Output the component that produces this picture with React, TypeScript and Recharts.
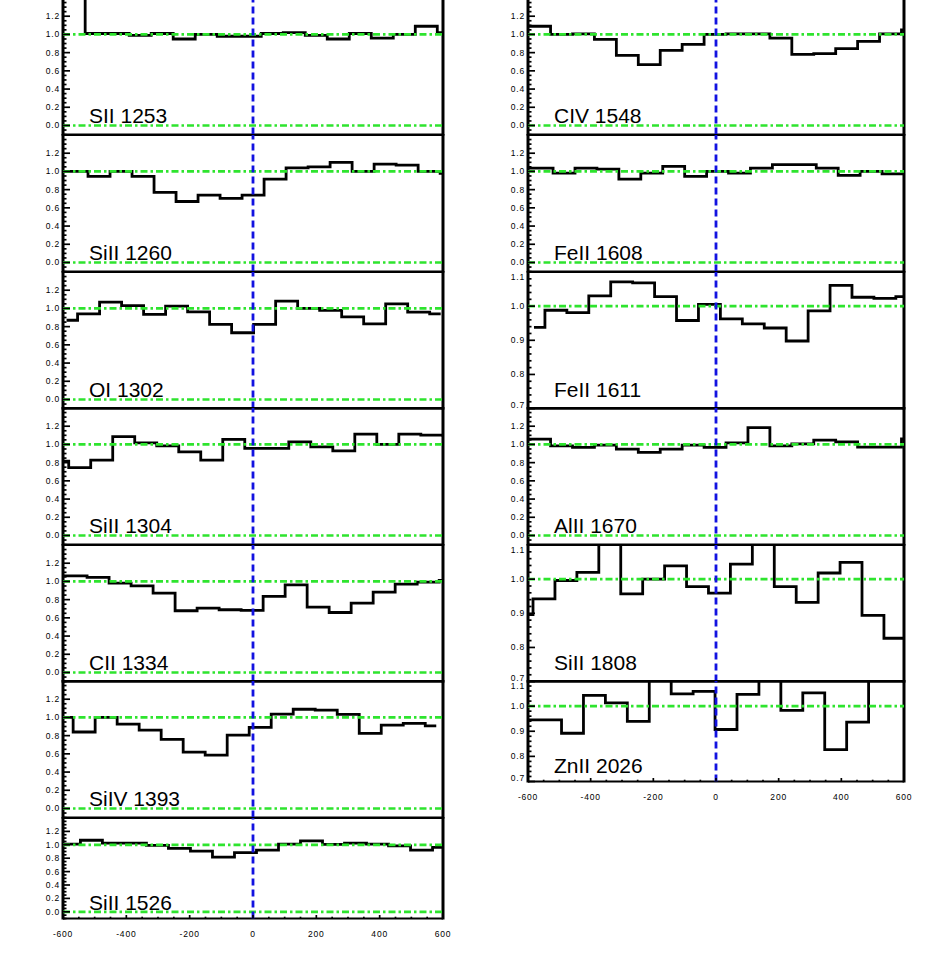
import React from 'react';
import { LineChart, Line, XAxis, YAxis, ReferenceLine } from 'recharts';

// velocity axis (km/s)
const velTicks = [-600, -400, -200, 0, 200, 400, 600];
const velMinorStep = 50;

// normalised flux axes
const fluxTicksWide = [0.0, 0.2, 0.4, 0.6, 0.8, 1.0, 1.2];
const fluxTicksNarrow = [0.7, 0.8, 0.9, 1.0, 1.1];
const domainWide: [number, number] = [-0.1, 1.4];
const domainNarrow: [number, number] = [0.7, 1.1];

// pixel width in velocity for each column (km/s)
const binLeft = 69.5;
const binRight = 70;

// normalised flux per velocity bin
const sII1253 = [1.8, 1.01, 1.01, 0.99, 1.01, 0.95, 1.0, 0.98, 0.98, 1.01, 1.02, 0.99, 0.95, 1.01, 0.96, 1.0, 1.09, 1.02];
const siII1260 = [1.0, 1.0, 0.945, 1.0, 0.945, 0.77, 0.67, 0.74, 0.705, 0.74, 0.915, 1.04, 1.05, 1.1, 1.0, 1.08, 1.07, 1.0, 0.98];
const oI1302 = [0.87, 0.94, 1.07, 1.03, 0.935, 1.025, 0.963, 0.824, 0.733, 0.824, 1.08, 1.0, 0.978, 0.908, 0.83, 1.05, 0.96, 0.94];
const siII1304 = [0.816, 0.746, 0.827, 1.085, 1.018, 0.985, 0.919, 0.827, 1.055, 0.956, 0.956, 1.029, 0.974, 0.93, 1.114, 1.0, 1.114, 1.103, 1.1];
const cII1334 = [1.062, 1.062, 1.044, 0.982, 0.952, 0.872, 0.678, 0.707, 0.689, 0.681, 0.835, 0.963, 0.718, 0.659, 0.762, 0.883, 0.971, 0.993, 1.011];
const siIV1393 = [1.0, 0.84, 1.0, 0.927, 0.86, 0.76, 0.62, 0.586, 0.806, 0.89, 1.037, 1.09, 1.08, 1.033, 0.824, 0.916, 0.934, 0.908];
const siII1526 = [1.01, 1.01, 1.068, 1.024, 1.024, 0.99, 0.946, 0.907, 0.815, 0.883, 0.922, 1.01, 1.059, 1.005, 1.024, 1.01, 0.985, 0.922, 0.961];

const cIV1548 = [1.09, 1.09, 1.0, 1.007, 0.945, 0.771, 0.669, 0.825, 0.891, 1.0, 1.007, 1.007, 0.96, 0.782, 0.789, 0.844, 0.924, 1.007, 1.05];
const feII1608 = [1.037, 1.037, 0.982, 1.037, 1.026, 0.915, 0.982, 1.055, 0.945, 1.0, 0.982, 1.037, 1.074, 1.074, 1.037, 0.956, 1.0, 0.974, 0.974];
const feII1611 = [0.938, 0.988, 0.981, 1.03, 1.071, 1.068, 1.028, 0.958, 1.005, 0.963, 0.948, 0.936, 0.898, 0.986, 1.061, 1.026, 1.023, 1.028];
const alII1670 = [1.059, 1.059, 0.985, 0.967, 0.993, 0.949, 0.912, 0.949, 0.993, 0.967, 1.018, 1.184, 0.985, 1.007, 1.048, 1.029, 0.971, 0.971, 1.06];
const siII1808 = [0.896, 0.942, 0.996, 1.02, 1.15, 0.957, 1.0, 1.039, 0.978, 0.959, 1.044, 1.15, 0.978, 0.932, 1.018, 1.049, 0.894, 0.827, 0.827];
const znII2026 = [0.945, 0.945, 0.892, 1.043, 1.013, 0.939, 1.15, 1.049, 1.059, 0.907, 1.047, 1.15, 0.983, 1.053, 0.827, 0.936, 1.15, 1.15, 1.15];

// first = velocity of the first bin centre
const leftColumn = [
  { label: 'SII 1253', first: -564.75, flux: sII1253, narrow: false },
  { label: 'SiII 1260', first: -625.25, flux: siII1260, narrow: false },
  { label: 'OI 1302', first: -588.75, flux: oI1302, narrow: false },
  { label: 'SiII 1304', first: -616.75, flux: siII1304, narrow: false },
  { label: 'CII 1334', first: -628.25, flux: cII1334, narrow: false },
  { label: 'SiIV 1393', first: -602.75, flux: siIV1393, narrow: false },
  { label: 'SiII 1526', first: -649.25, flux: siII1526, narrow: false },
];

const rightColumn = [
  { label: 'CIV 1548', first: -633, flux: cIV1548, narrow: false },
  { label: 'FeII 1608', first: -625, flux: feII1608, narrow: false },
  { label: 'FeII 1611', first: -581, flux: feII1611, narrow: true },
  { label: 'AlII 1670', first: -633, flux: alII1670, narrow: false },
  { label: 'SiII 1808', first: -619, flux: siII1808, narrow: true },
  { label: 'ZnII 2026', first: -598, flux: znII2026, narrow: true },
];

const PANEL_H = 136.6;
const LAST_H = 100.5;
const TOP0 = -1.6;
const AXL = 60;
const PAD = 4;
const RPAD = 18;
const XLAB = 20;

const GREEN = '#2ee42e';
const BLUE = '#1212e0';
const FONT = '"Liberation Sans", Arial, Helvetica, sans-serif';
const DASHDOT = '7 3 2.5 3';

const steps = (a: number, b: number, s: number) => {
  const out: number[] = [];
  for (let k = Math.ceil(a / s - 1e-9); k <= Math.floor(b / s + 1e-9); k++) out.push(Math.round(k * s * 1e6) / 1e6);
  return out;
};
const isIn = (v: number, list: number[]) => list.some((m) => Math.abs(m - v) < 1e-6);

interface PanelProps {
  x: number;
  y: number;
  w: number;
  h: number;
  bin: number;
  first: number;
  flux: number[];
  label: string;
  narrow: boolean;
  showX: boolean;
}

const Panel = ({ x, y, w, h, bin, first, flux, label, narrow, showX }: PanelProps) => {
  const data = flux.map((f, i) => ({ v: first + i * bin, f }));
  const domain = narrow ? domainNarrow : domainWide;
  const majors = narrow ? fluxTicksNarrow : fluxTicksWide;
  const yTicks = steps(domain[0], domain[1], narrow ? 0.02 : 0.05);
  const xTicks = steps(-600, 600, velMinorStep);
  const chartW = AXL + w + RPAD;
  const chartH = PAD + h + (showX ? XLAB : 0) + PAD;
  const L = AXL;
  const R = AXL + w;
  const T = PAD;
  const B = PAD + h;

  const leftTick = (p: any) => {
    const val = p.payload.value;
    const major = isIn(val, majors);
    let dy = 0;
    if (Math.abs(val - domain[1]) < 1e-6) dy = 5;
    else if (Math.abs(val - domain[0]) < 1e-6) dy = -4;
    return (
      <g>
        <line x1={p.x} x2={p.x + (major ? 7 : 3.5)} y1={p.y} y2={p.y} stroke="#000" strokeWidth={1.7} />
        {major && (
          <text x={p.x - 3} y={p.y + dy} textAnchor="end" dominantBaseline="central" fontSize={8.5}
            letterSpacing={0.8} fontFamily={FONT} fill="#000">
            {val.toFixed(1)}
          </text>
        )}
      </g>
    );
  };
  const rightTick = (p: any) => {
    const major = isIn(p.payload.value, majors);
    return <line x1={p.x} x2={p.x - (major ? 7 : 3.5)} y1={p.y} y2={p.y} stroke="#000" strokeWidth={1.7} />;
  };
  const bottomTick = (p: any) => {
    const val = p.payload.value;
    const major = isIn(val, velTicks);
    return (
      <g>
        <line x1={p.x} x2={p.x} y1={p.y} y2={p.y - (major ? 3.5 : 1.8)} stroke="#000" strokeWidth={1.7} />
        {showX && major && (
          <text x={p.x} y={p.y + 15} textAnchor="middle" dominantBaseline="central" fontSize={8.5}
            letterSpacing={0.8} fontFamily={FONT} fill="#000">
            {String(val)}
          </text>
        )}
      </g>
    );
  };
  const topTick = (p: any) => {
    const major = isIn(p.payload.value, velTicks);
    return <line x1={p.x} x2={p.x} y1={p.y} y2={p.y + (major ? 3.5 : 1.8)} stroke="#000" strokeWidth={1.7} />;
  };

  return (
    <div style={{ position: 'absolute', left: x - AXL, top: y - PAD }}>
      <LineChart width={chartW} height={chartH} data={data}
        margin={{ top: PAD, right: RPAD, bottom: PAD, left: 0 }}>
        <XAxis dataKey="v" type="number" domain={[-600, 600]} allowDataOverflow ticks={xTicks} interval={0}
          height={showX ? XLAB : 0} tickSize={0} tickMargin={0} tickLine={false} tick={bottomTick}
          axisLine={false} />
        <XAxis xAxisId="top" dataKey="v" orientation="top" type="number" domain={[-600, 600]} allowDataOverflow
          ticks={xTicks} interval={0} height={0} tickSize={0} tickMargin={0} tickLine={false} tick={topTick}
          axisLine={false} />
        <YAxis type="number" domain={domain} allowDataOverflow ticks={yTicks} interval={0} width={AXL}
          tickSize={0} tickMargin={0} tickLine={false} tick={leftTick} axisLine={false} />
        <YAxis yAxisId="right" orientation="right" type="number" domain={domain} allowDataOverflow
          ticks={yTicks} interval={0} width={0} tickSize={0} tickMargin={0} tickLine={false} tick={rightTick}
          axisLine={false} />
        {/* invisible twin so the top and right axes get drawn */}
        <Line xAxisId="top" yAxisId="right" type="step" dataKey="f" stroke="none" strokeWidth={0} dot={false}
          activeDot={false} legendType="none" isAnimationActive={false} />
        <Line type="step" dataKey="f" stroke="#000" strokeWidth={2.8} dot={false} activeDot={false}
          isAnimationActive={false} />
        <ReferenceLine y={1} stroke={GREEN} strokeWidth={2.7} strokeDasharray={DASHDOT} />
        {!narrow && <ReferenceLine y={0} stroke={GREEN} strokeWidth={2.7} strokeDasharray={DASHDOT} />}
        <ReferenceLine x={0} stroke={BLUE} strokeWidth={2.8} strokeDasharray="7 4" />
        <line x1={L} x2={L} y1={T - 1} y2={B + 1} stroke="#000" strokeWidth={3} />
        <line x1={R} x2={R} y1={T - 1} y2={B + 1} stroke="#000" strokeWidth={3} />
        <line x1={L} x2={R} y1={T} y2={T} stroke="#000" strokeWidth={2.2} />
        <line x1={L} x2={R} y1={B} y2={B} stroke="#000" strokeWidth={2.2} />
        <text x={AXL + 26} y={PAD + h - h * 0.088} fontSize={21} fontFamily={FONT} fill="#000">
          {label}
        </text>
      </LineChart>
    </div>
  );
};

const App = () => {
  return (
    <div style={{ position: 'absolute', left: 0, top: 0, width: 927, height: 955, overflow: 'hidden', background: '#fff' }}>
      {leftColumn.map((p, i) => {
        const last = i === leftColumn.length - 1;
        return (
          <Panel key={p.label} x={63} y={TOP0 + i * PANEL_H} w={380} h={last ? LAST_H : PANEL_H}
            bin={binLeft} first={p.first} flux={p.flux} label={p.label} narrow={p.narrow} showX={last} />
        );
      })}
      {rightColumn.map((p, i) => {
        const last = i === rightColumn.length - 1;
        return (
          <Panel key={p.label} x={528} y={TOP0 + i * PANEL_H} w={376} h={last ? LAST_H : PANEL_H}
            bin={binRight} first={p.first} flux={p.flux} label={p.label} narrow={p.narrow} showX={last} />
        );
      })}
    </div>
  );
};

export default App;
